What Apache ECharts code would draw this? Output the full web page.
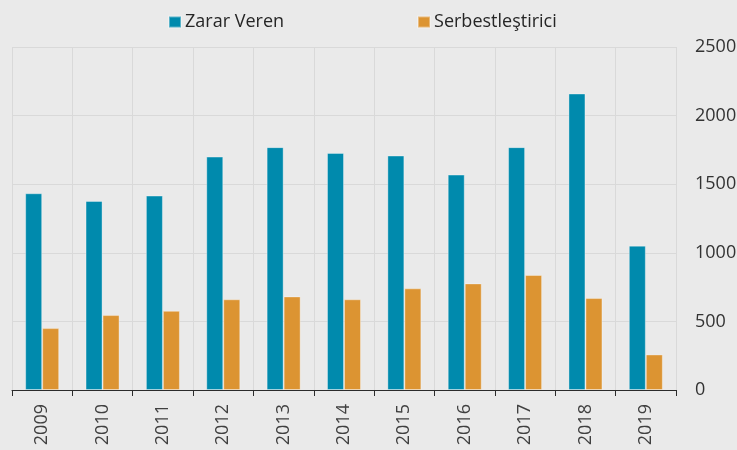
<!DOCTYPE html>
<html>
<head>
<meta charset="utf-8">
<script src="https://cdn.jsdelivr.net/npm/echarts@6/dist/echarts.min.js"></script>
<style>
html, body { margin: 0; padding: 0; background: #eaeaea; }
#chart { width: 737px; height: 450px; }
</style>
</head>
<body>
<div id="chart"></div>
<script>
// yıllar
var years = ['2009', '2010', '2011', '2012', '2013', '2014', '2015', '2016', '2017', '2018', '2019'];
// Zarar Veren
var zararVeren = [1434, 1378, 1417, 1701, 1770, 1728, 1709, 1570, 1770, 2161, 1052];
// Serbestleştirici
var serbest = [451, 546, 577, 661, 682, 661, 741, 777, 838, 670, 259];
var seriesNames = ['Zarar Veren', 'Serbestleştirici'];

var myChart = echarts.init(document.getElementById('chart'), null, { renderer: 'canvas' });

var option = {
    backgroundColor: '#eaeaea',
    animation: false,
    textStyle: { fontFamily: 'Open Sans' },
    color: ['#008aad', '#dc9432'],
    legend: {
        data: seriesNames,
        left: 163,
        top: 8,
        itemWidth: 12,
        itemHeight: 11,
        itemGap: 133,
        icon: 'rect',
        textStyle: { fontSize: 18, color: '#262626', padding: [0, 0, 0, -1] }
    },
    grid: {
        left: 12,
        right: 61,
        top: 47,
        bottom: 60,
        containLabel: false,
        outerBoundsMode: 'none'
    },
    xAxis: {
        type: 'category',
        data: years,
        axisLine: { show: true, lineStyle: { color: '#2b2b2b', width: 1 } },
        axisTick: { show: true, length: 6, lineStyle: { color: '#2b2b2b' } },
        splitLine: { show: true, lineStyle: { color: '#d9d9d9', width: 1 } },
        axisLabel: {
            rotate: 90,
            margin: 14,
            fontSize: 18,
            color: '#404040'
        }
    },
    yAxis: {
        type: 'value',
        position: 'right',
        min: 0,
        max: 2500,
        interval: 500,
        axisLine: { show: false },
        axisTick: { show: false },
        splitLine: { show: true, lineStyle: { color: '#d9d9d9', width: 1 } },
        axisLabel: {
            margin: 19,
            fontSize: 18,
            color: '#333333',
            formatter: function (v) { return String(v); }
        }
    },
    series: [
        {
            name: seriesNames[0],
            type: 'bar',
            data: zararVeren,
            barWidth: 17,
            barGap: '0%',
            itemStyle: { borderColor: 'rgba(255,255,255,0.35)', borderWidth: 1 }
        },
        {
            name: seriesNames[1],
            type: 'bar',
            data: serbest,
            barWidth: 17,
            barGap: '0%',
            itemStyle: { borderColor: 'rgba(255,255,255,0.35)', borderWidth: 1 }
        }
    ]
};

myChart.setOption(option);
</script>
</body>
</html>
